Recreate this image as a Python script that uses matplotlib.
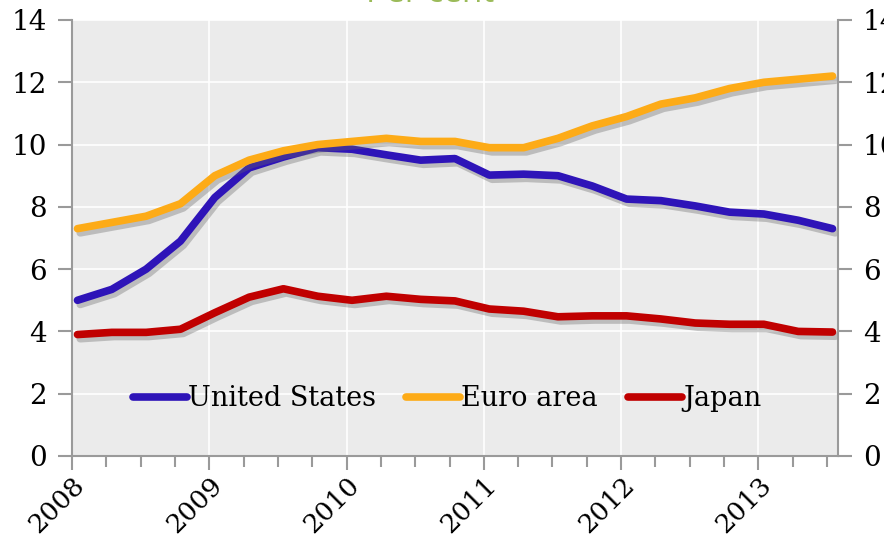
import matplotlib

matplotlib.use("Agg")
import matplotlib.pyplot as plt
import matplotlib.patheffects as pe
import numpy as np

# ----------------- DATA -----------------
# quarterly, 2008Q1 .. 2013Q3 (unemployment rate, per cent)
quarters = 2008.04 + 0.25 * np.arange(23)
us = [5.0, 5.35, 6.0, 6.9, 8.3, 9.25, 9.6, 9.9, 9.85, 9.67, 9.5, 9.55,
      9.02, 9.05, 9.0, 8.67, 8.25, 8.2, 8.03, 7.83, 7.77, 7.57, 7.3]
euro = [7.3, 7.5, 7.7, 8.1, 9.0, 9.5, 9.8, 10.0, 10.1, 10.2, 10.1, 10.1,
        9.9, 9.9, 10.2, 10.6, 10.9, 11.3, 11.5, 11.8, 12.0, 12.1, 12.2]
japan = [3.9, 3.97, 3.97, 4.07, 4.6, 5.1, 5.37, 5.13, 5.0, 5.13, 5.03, 4.98,
         4.72, 4.65, 4.47, 4.5, 4.5, 4.4, 4.27, 4.23, 4.23, 4.0, 3.98]
years = [2008, 2009, 2010, 2011, 2012, 2013]
yticks = [0, 2, 4, 6, 8, 10, 12, 14]
# -----------------------------------------

SERIF = ["DejaVu Serif"]
GREY = "#9a9a9a"

fig = plt.figure(figsize=(8.84, 5.41), dpi=100)
ax = fig.add_axes([72 / 884, 1 - 456 / 541, (838 - 72) / 884, (456 - 20) / 541])
ax.set_facecolor("#ebebeb")

shadow = [pe.SimpleLineShadow(offset=(2, -3), shadow_color="#666666", alpha=0.35),
          pe.Normal()]
for vals, col, lab in [(us, "#2e14b8", "United States"),
                       (euro, "#fdab17", "Euro area"),
                       (japan, "#c00000", "Japan")]:
    ax.plot(quarters, vals, color=col, lw=5.5, label=lab,
            solid_capstyle="round", solid_joinstyle="round", path_effects=shadow)

ax.set_xlim(2008, 2013.58)
ax.set_ylim(0, 14)
ax.set_xticks(years)
ax.set_xticks(np.arange(2008, 2013.6, 0.25), minor=True)
ax.set_yticks(yticks)
ax.grid(True, color="white", lw=1.2)
ax.set_axisbelow(True)

ax.spines["top"].set_visible(False)
for s in ["left", "right", "bottom"]:
    ax.spines[s].set_color(GREY)
    ax.spines[s].set_linewidth(1.5)

ax.tick_params(axis="both", which="both", color=GREY, width=1.5, direction="out")
ax.tick_params(axis="x", which="major", length=10, pad=2)
ax.tick_params(axis="x", which="minor", length=8)
ax.tick_params(axis="y", length=10, pad=8,
               left=True, right=True, labelleft=True, labelright=True)
ax.set_yticklabels([str(v) for v in yticks], family=SERIF, fontsize=20)
ax.set_xticklabels([str(y) for y in years], family=SERIF, fontsize=19,
                   rotation=45, ha="right", rotation_mode="anchor")

leg = ax.legend(loc="lower left", bbox_to_anchor=(0.065, 0.075), ncol=3,
                frameon=False, prop={"family": SERIF, "size": 19.5},
                handlelength=2.0, handletextpad=0.05, columnspacing=1.1,
                borderaxespad=0)
for h in leg.get_lines():
    h.set_path_effects([pe.Normal()])
    h.set_linewidth(5.5)

fig.text(0.487, 1.012, "Per cent", color="#9bbb59", fontsize=24,
         ha="center", va="center", family=["Open Sans", "DejaVu Sans"])

fig.savefig("out.png", dpi=100)
